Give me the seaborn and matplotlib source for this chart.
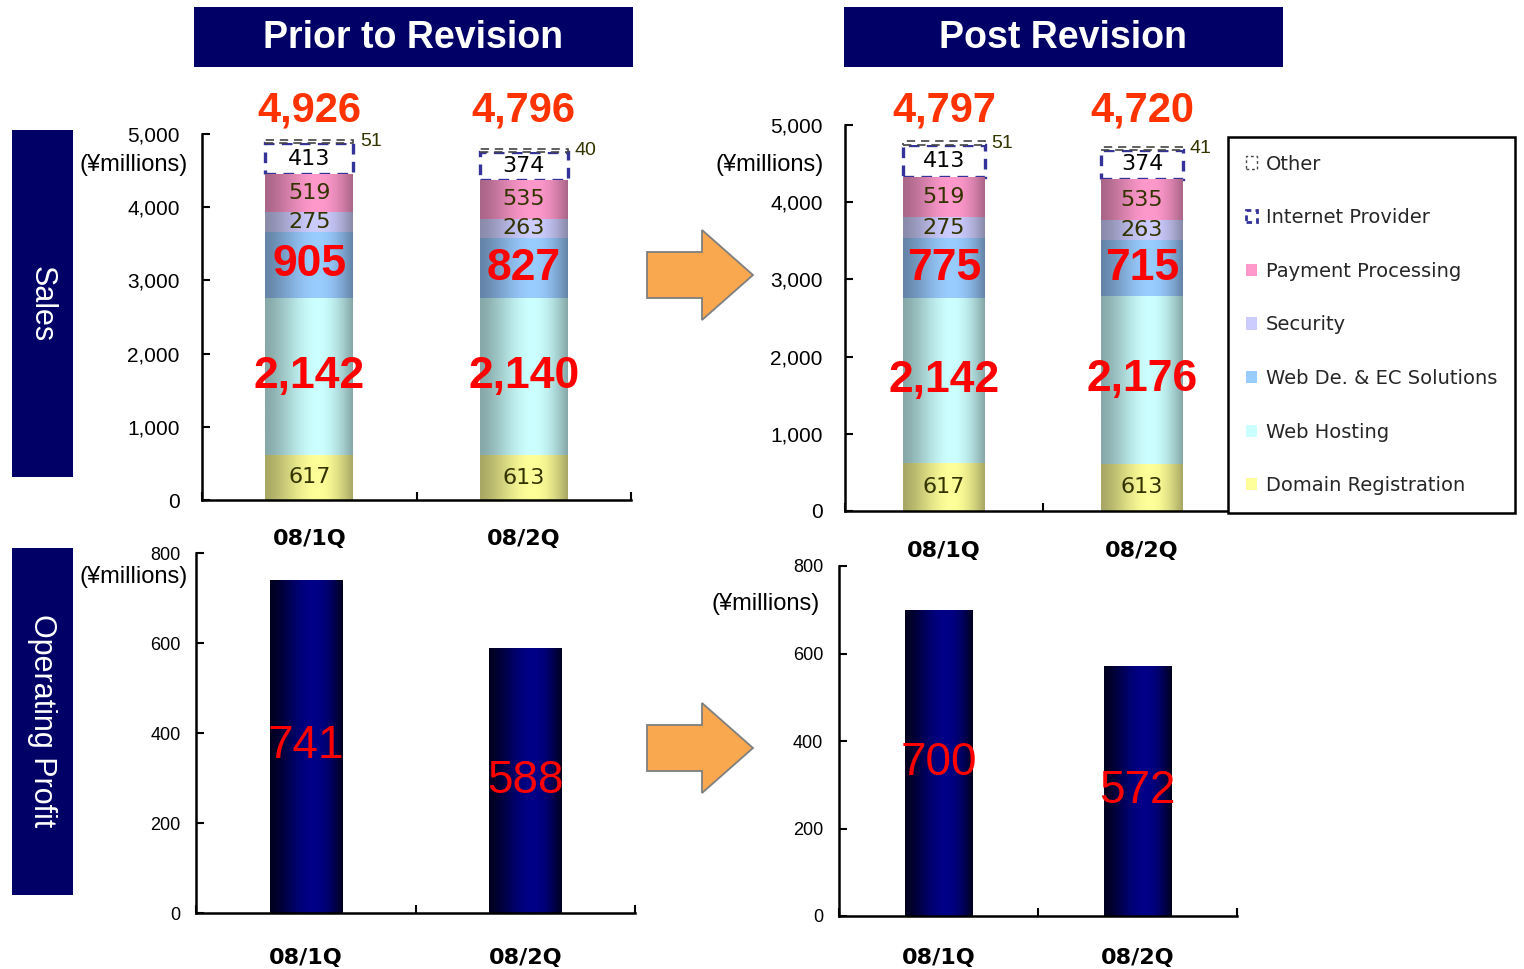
import numpy as np
import matplotlib
matplotlib.use("Agg")
import matplotlib.pyplot as plt
import matplotlib.colors as mcolors
import matplotlib.transforms as mtransforms
from matplotlib.patches import Rectangle, Polygon, Patch
import seaborn as sns

# ---------------- data ----------------
categories = ["08/1Q", "08/2Q"]
segment_names = ["Domain Registration", "Web Hosting", "Web De. & EC Solutions",
                 "Security", "Payment Processing", "Internet Provider", "Other"]

prior_domain = [617, 613]
prior_hosting = [2142, 2140]
prior_webdev = [905, 827]
prior_security = [275, 263]
prior_payment = [519, 535]
prior_internet = [413, 374]
prior_other = [51, 40]
prior_total = [4926, 4796]

post_domain = [617, 613]
post_hosting = [2142, 2176]
post_webdev = [775, 715]
post_security = [275, 263]
post_payment = [519, 535]
post_internet = [413, 374]
post_other = [51, 41]
post_total = [4797, 4720]

prior_profit = [741, 588]
post_profit = [700, 572]

sales_ticks = [0, 1000, 2000, 3000, 4000, 5000]
profit_ticks = [0, 200, 400, 600, 800]

panel_titles = ["Prior to Revision", "Post Revision"]
row_titles = ["Sales", "Operating Profit"]
unit_label = "(¥millions)"

# ---------------- styles ----------------
NAVY = "#000066"
OLIVE = "#333300"
seg_style = {
    "Domain Registration":    dict(center="#FFFF99", edge="#A8A864", kind="small"),
    "Web Hosting":            dict(center="#CCFFFF", edge="#86A8A8", kind="big"),
    "Web De. & EC Solutions": dict(center="#99CCFF", edge="#6585A8", kind="big"),
    "Security":               dict(center="#CCCCFF", edge="#8A8AAA", kind="small"),
    "Payment Processing":     dict(center="#FF99CC", edge="#AA6688", kind="small"),
    "Internet Provider":      dict(center=None, edge="#333399", kind="box"),
    "Other":                  dict(center=None, edge="#444444", kind="out"),
}

W, H = 1524, 969
sns.set_theme(style="white")
plt.rcParams["font.family"] = ["Liberation Sans", "DejaVu Sans"]

fig = plt.figure(figsize=(W / 100, H / 100), dpi=100)


def px_axes(x0, x1, ytop, ybot):
    return fig.add_axes([x0 / W, 1 - ybot / H, (x1 - x0) / W, (ybot - ytop) / H])


def shade(ax, patches, center, edge, n=80):
    c = np.array(mcolors.to_rgb(center))
    e = np.array(mcolors.to_rgb(edge))
    t = np.linspace(0, 1, n)
    f = np.sin(np.pi * t ** 1.35)
    img = (e[None, :] + (c - e)[None, :] * f[:, None])[None, :, :]
    for p in patches:
        x0, y0, w, h = p.get_x(), p.get_y(), p.get_width(), p.get_height()
        im = ax.imshow(img, extent=[x0, x0 + w, y0, y0 + h], aspect="auto",
                       interpolation="bilinear", zorder=p.get_zorder() + 0.05)
        im.set_clip_path(p)


def style_axes(ax, ymax, ticks, ylab_fs, ypad, xpad):
    ax.set_xlim(-0.5, 1.5)
    ax.set_ylim(0, ymax)
    sns.despine(ax=ax)
    for s in ["left", "bottom"]:
        ax.spines[s].set_linewidth(1.8)
        ax.spines[s].set_color("black")
    ax.set_yticks(ticks)
    ax.set_yticklabels([f"{t:,}" for t in ticks])
    ax.tick_params(axis="y", direction="in", length=6, width=1.5, pad=ypad,
                   labelsize=ylab_fs, colors="black", left=True)
    ax.set_xticks([0, 1])
    ax.set_xticklabels(categories, fontsize=16, fontweight="bold", family="DejaVu Sans")
    ax.set_xticks([-0.5, 0.5, 1.5], minor=True)
    ax.tick_params(axis="x", which="major", length=0, pad=xpad, colors="black")
    ax.tick_params(axis="x", which="minor", direction="in", length=6, width=1.5,
                   bottom=True, color="black")
    ax.set_xlabel("")
    ax.set_ylabel("")
    ax.set_facecolor("none")


def draw_sales(ax, series, totals, width, total_y_px):
    bottoms = np.zeros(len(categories))
    for name, vals in zip(segment_names, series):
        st = seg_style[name]
        vals = np.asarray(vals, dtype=float)
        n0 = len(ax.patches)
        if st["kind"] == "box":
            kw = dict(facecolor="white", edgecolor=st["edge"], linewidth=2.4,
                      linestyle=(0, (3.2, 2.2)))
        elif st["kind"] == "out":
            kw = dict(facecolor="white", edgecolor=st["edge"], linewidth=1.2,
                      linestyle=(0, (5, 3.5)))
        else:
            kw = dict(facecolor=st["center"], edgecolor="none", linewidth=0)
        sns.barplot(x=categories, y=vals, bottom=bottoms.copy(), width=width, ax=ax,
                    errorbar=None, saturation=1, color="white", **kw)
        new = ax.patches[n0:]
        if st["center"] is not None:
            shade(ax, new, st["center"], st["edge"])
        for i, (v, b) in enumerate(zip(vals, bottoms)):
            mid = b + v / 2
            lab = f"{int(v):,}"
            if st["kind"] == "big":
                ax.text(i, mid, lab, ha="center", va="center", color="#FF0000",
                        fontsize=32, fontweight="bold", zorder=6)
            elif st["kind"] == "small":
                ax.text(i, mid, lab, ha="center", va="center", color=OLIVE,
                        fontsize=16, family="DejaVu Sans", zorder=6)
            elif st["kind"] == "box":
                ax.text(i, mid, lab, ha="center", va="center", color="black",
                        fontsize=16, family="DejaVu Sans", zorder=6)
            else:
                ax.annotate(lab, xy=(i + width / 2, mid), xytext=(5, 0),
                            textcoords="offset points", ha="left", va="center",
                            color=OLIVE, fontsize=14, zorder=6, annotation_clip=False)
        bottoms = bottoms + vals
    trans = mtransforms.blended_transform_factory(ax.transData, fig.transFigure)
    for i, t in enumerate(totals):
        ax.text(i, 1 - total_y_px / H, f"{t:,}", transform=trans, ha="center",
                va="center", color="#FF3300", fontsize=30, fontweight="bold",
                clip_on=False, zorder=6)


def draw_profit(ax, vals, width):
    n0 = len(ax.patches)
    sns.barplot(x=categories, y=vals, width=width, ax=ax, errorbar=None,
                saturation=1, color="#000080", edgecolor="none", linewidth=0)
    shade(ax, ax.patches[n0:], "#000088", "#000020")
    for i, v in enumerate(vals):
        ax.text(i, v / 2, f"{v:,}", ha="center", va="center", color="#FF0000",
                fontsize=33, zorder=6)


# ---------------- panels ----------------
ax_s1 = px_axes(202, 631, 134, 500)
ax_s2 = px_axes(845, 1241, 125, 511)
ax_p1 = px_axes(196, 635, 553, 913)
ax_p2 = px_axes(839, 1237, 566, 916)

prior_series = [prior_domain, prior_hosting, prior_webdev, prior_security,
                prior_payment, prior_internet, prior_other]
post_series = [post_domain, post_hosting, post_webdev, post_security,
               post_payment, post_internet, post_other]

draw_sales(ax_s1, prior_series, prior_total, 0.41, 110)
draw_sales(ax_s2, post_series, post_total, 0.41, 110)
draw_profit(ax_p1, prior_profit, 0.33)
draw_profit(ax_p2, post_profit, 0.34)

style_axes(ax_s1, 5000, sales_ticks, 15, 16, 21)
style_axes(ax_s2, 5000, sales_ticks, 15, 16, 21.5)
style_axes(ax_p1, 800, profit_ticks, 13, 11, 25)
style_axes(ax_p2, 800, profit_ticks, 13, 11.5, 23)

# unit labels
for (xr, yc) in [(188, 165), (824, 165), (188, 577), (820, 604)]:
    fig.text(xr / W, 1 - yc / H, unit_label, ha="right", va="center",
             fontsize=17, color="black")

# ---------------- header boxes ----------------
def fig_rect(x0, y0, x1, y1, color):
    fig.patches.append(Rectangle((x0 / W, 1 - y1 / H), (x1 - x0) / W, (y1 - y0) / H,
                                 transform=fig.transFigure, facecolor=color,
                                 edgecolor="none", zorder=0))


fig_rect(194, 7, 633, 67, NAVY)
fig_rect(844, 7, 1283, 67, NAVY)
fig.text(413 / W, 1 - 38 / H, panel_titles[0], ha="center", va="center",
         color="white", fontsize=27, fontweight="bold")
fig.text(1063 / W, 1 - 38 / H, panel_titles[1], ha="center", va="center",
         color="white", fontsize=27, fontweight="bold")

fig_rect(12, 130, 73, 477, NAVY)
fig_rect(12, 548, 73, 895, NAVY)
fig.text(42 / W, 1 - 304 / H, row_titles[0], ha="center", va="center",
         color="white", fontsize=22, rotation=270)
fig.text(42 / W, 1 - 721 / H, row_titles[1], ha="center", va="center",
         color="white", fontsize=22, rotation=270)

# ---------------- arrows ----------------
def arrow(xl, xh, xt, yc, body_half, head_half):
    pts = [(xl, yc - body_half), (xh, yc - body_half), (xh, yc - head_half),
           (xt, yc), (xh, yc + head_half), (xh, yc + body_half), (xl, yc + body_half)]
    pts = [(x / W, 1 - y / H) for x, y in pts]
    fig.patches.append(Polygon(pts, closed=True, transform=fig.transFigure,
                               facecolor="#FAA850", edgecolor="#7F7F7F",
                               linewidth=1.3, zorder=1))


arrow(647, 702, 753, 275, 23, 45)
arrow(647, 702, 753, 748, 23, 45)

# ---------------- legend ----------------
handles = []
for name in reversed(segment_names):
    st = seg_style[name]
    if st["kind"] == "box":
        handles.append(Patch(facecolor="white", edgecolor=st["edge"], linewidth=2,
                             linestyle=(0, (2, 1.5)), label=name))
    elif st["kind"] == "out":
        handles.append(Patch(facecolor="white", edgecolor=st["edge"], linewidth=1,
                             linestyle=(0, (2, 2)), label=name))
    else:
        handles.append(Patch(facecolor=st["center"], edgecolor="none", label=name))

leg = fig.legend(handles=handles, loc="upper left",
                 bbox_to_anchor=(1228 / W, 1 - 137 / H), bbox_transform=fig.transFigure,
                 prop={"family": "DejaVu Sans", "size": 14}, frameon=True,
                 fancybox=False, shadow=False, borderpad=0.9, borderaxespad=0,
                 handlelength=0.6, handleheight=0.6, handletextpad=0.45,
                 labelspacing=1.78)
leg.get_frame().set_edgecolor("black")
leg.get_frame().set_linewidth(1.8)
leg.get_frame().set_facecolor("white")
leg.get_frame().set_alpha(1)
leg.set_zorder(10)

fig.savefig("out.png", dpi=100, facecolor="white")
